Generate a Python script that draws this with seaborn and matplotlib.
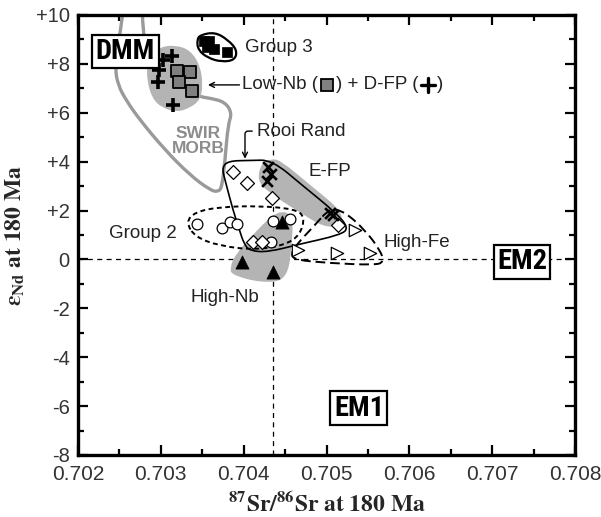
import matplotlib
matplotlib.use("Agg")
import matplotlib.pyplot as plt
import numpy as np
import seaborn as sns
from matplotlib.path import Path
from matplotlib.patches import PathPatch, Rectangle
from matplotlib.lines import Line2D
from matplotlib.ticker import MultipleLocator, FixedLocator, FixedFormatter
from matplotlib.offsetbox import TextArea, DrawingArea, HPacker, AnnotationBbox
from matplotlib import font_manager

# ---------------- sample data (87Sr/86Sr, eNd at 180 Ma) ----------------
dfp_sr = [0.703135, 0.703026, 0.702978, 0.702966, 0.703147]
dfp_nd = [8.32, 8.16, 7.75, 7.26, 6.32]

lownb_sr = [0.703195, 0.703352, 0.703219, 0.703376]
lownb_nd = [7.71, 7.67, 7.26, 6.89]

group3_sr = [0.703521, 0.703581, 0.703557, 0.703642, 0.703799]
group3_nd = [8.94, 8.94, 8.69, 8.61, 8.49]

efp_sr = [0.704294, 0.704330, 0.704282, 0.705042, 0.705080]
efp_nd = [3.78, 3.50, 3.21, 1.90, 1.80]

rooi_sr = [0.703871, 0.704040, 0.704342, 0.705139, 0.704113, 0.704221]
rooi_nd = [3.58, 3.13, 2.51, 1.41, 0.71, 0.71]

group2_sr = [0.703437, 0.703738, 0.703835, 0.703919, 0.704354, 0.704560, 0.704330]
group2_nd = [1.45, 1.29, 1.53, 1.45, 1.57, 1.65, 0.71]

highnb_sr = [0.704463, 0.703980, 0.704354]
highnb_nd = [1.53, -0.10, -0.51]

highfe_sr = [0.704656, 0.705127, 0.705525, 0.705344]
highfe_nd = [0.39, 0.26, 0.26, 1.20]

# ---------------- field outlines ----------------
swir_sr = [0.702773, 0.702785, 0.702869, 0.703171, 0.703473, 0.703594, 0.703775,
           0.703859, 0.703811, 0.703775, 0.703738, 0.703690, 0.703594, 0.703352,
           0.703050, 0.702748, 0.702579, 0.702483, 0.702447, 0.702495, 0.702555]
swir_nd = [10.41, 8.98, 8.16, 7.14, 6.65, 6.60, 6.44, 5.99, 5.50, 4.07, 2.96,
           2.76, 2.84, 3.45, 4.48, 5.70, 6.52, 7.14, 7.83, 8.98, 10.41]

lownb_field_sr = [0.702869, 0.702990, 0.703171, 0.703352, 0.703473, 0.703509, 0.703473,
                  0.703352, 0.703195, 0.703014, 0.702893, 0.702833, 0.702833]
lownb_field_nd = [8.36, 8.69, 8.77, 8.57, 7.95, 7.14, 6.52, 6.20, 6.03, 6.20, 6.60, 7.34, 7.95]

group3_field_sr = [0.703473, 0.703654, 0.703811, 0.703920, 0.703895, 0.703738, 0.703569,
                   0.703449, 0.703437]
group3_field_nd = [9.18, 9.30, 8.98, 8.57, 8.16, 8.08, 8.24, 8.57, 8.98]

efp_field_sr = [0.704221, 0.704330, 0.704439, 0.704820, 0.705199, 0.705163, 0.704982,
                0.704640, 0.704294, 0.704161]
efp_field_nd = [3.99, 4.10, 4.07, 3.00, 1.94, 1.41, 1.29, 2.00, 2.76, 3.25]

highnb_field_sr = [0.703835, 0.703895, 0.704137, 0.704414, 0.704596, 0.704583, 0.704523,
                   0.704221, 0.703859]
highnb_field_nd = [-0.35, 0.18, 1.12, 2.02, 1.82, 0.59, -0.84, -0.96, -0.64]

group2_field_sr = [0.703304, 0.703412, 0.703714, 0.704197, 0.704620, 0.704740, 0.704680,
                   0.704499, 0.704137, 0.703714, 0.703412]
group2_field_nd = [1.53, 1.94, 2.15, 2.19, 2.06, 1.74, 1.00, 0.59, 0.39, 0.55, 0.92]

rooi_field_sr = [0.703738, 0.703811, 0.704076, 0.704342, 0.704720, 0.705103, 0.705272,
                 0.705163, 0.704680, 0.704294, 0.704076, 0.704004, 0.703940, 0.703871,
                 0.703775]
rooi_field_nd = [3.74, 4.03, 4.05, 4.07, 3.00, 1.94, 1.29, 1.00, 0.63, 0.30, 0.35, 0.63,
                 1.30, 2.02, 3.25]

highfe_field_sr = [0.705042, 0.705223, 0.705465, 0.705646, 0.705694, 0.705585, 0.705042,
                   0.704620, 0.704571, 0.704632, 0.704861]
highfe_field_nd = [2.10, 1.94, 1.20, 0.39, -0.10, -0.23, -0.15, -0.02, 0.22, 0.59, 1.41]

# reference lines (Bulk Earth)
bse_sr = 0.70435
bse_nd = 0.0

x_ticks = [0.702, 0.703, 0.704, 0.705, 0.706, 0.707, 0.708]
x_labels = ["0.702", "0.703", "0.704", "0.705", "0.706", "0.707", "0.708"]
y_ticks = [-8, -6, -4, -2, 0, 2, 4, 6, 8, 10]
y_labels = ["-8", "-6", "-4", "-2", "0", "+2", "+4", "+6", "+8", "+10"]


def smooth_path(xs, ys, closed=True):
    """Quadratic-Bezier outline through edge midpoints, using the vertices as controls."""
    p = np.column_stack([xs, ys])
    n = len(p)
    verts, codes = [], []
    if closed:
        mids = (p + np.roll(p, -1, axis=0)) / 2
        verts.append(mids[-1]); codes.append(Path.MOVETO)
        for i in range(n):
            verts += [p[i], mids[i]]
            codes += [Path.CURVE3, Path.CURVE3]
        verts.append(mids[-1]); codes.append(Path.CLOSEPOLY)
    else:
        verts.append(p[0]); codes.append(Path.MOVETO)
        for i in range(1, n - 1):
            m = (p[i] + p[i + 1]) / 2
            verts += [p[i], m]
            codes += [Path.CURVE3, Path.CURVE3]
        verts.append(p[-1]); codes.append(Path.LINETO)
    return Path(verts, codes)


# narrow bold face for the end-member boxes, if one is installed
installed = {f.name for f in font_manager.fontManager.ttflist}
narrow_families = [f for f in ["Liberation Sans Narrow", "Arial Narrow", "Roboto Condensed",
                               "Open Sans Condensed", "DejaVu Sans"] if f in installed]
box_kw = dict(family=narrow_families + ["Liberation Sans"], fontstretch="condensed")

sns.set_theme(style="white")
plt.rcParams["font.family"] = ["Liberation Sans", "DejaVu Sans"]
plt.rcParams["mathtext.fontset"] = "stix"

fig = plt.figure(figsize=(6.01, 5.17), dpi=100)
ax = fig.add_axes([78 / 601, 1 - 455 / 517, 497 / 601, 440 / 517])
ax.set_xlim(0.702, 0.708)
ax.set_ylim(-8, 10)

txt = "#222222"
shade = "#b4b4b4"

# shaded fields
for fx, fy in [(lownb_field_sr, lownb_field_nd), (efp_field_sr, efp_field_nd),
               (highnb_field_sr, highnb_field_nd)]:
    ax.add_patch(PathPatch(smooth_path(fx, fy), facecolor=shade, edgecolor="none", zorder=1))

# SWIR MORB outline
ax.add_patch(PathPatch(smooth_path(swir_sr, swir_nd, closed=False), facecolor="none",
                       edgecolor="#9a9a9a", lw=2.4, zorder=0.5, capstyle="round"))

# Bulk Earth reference lines
ax.axvline(bse_sr, color="black", lw=0.9, ls=(0, (4, 3.5)), zorder=0.8)
ax.axhline(bse_nd, color="black", lw=0.9, ls=(0, (4, 3.5)), zorder=0.8)

# outlined fields
ax.add_patch(PathPatch(smooth_path(group3_field_sr, group3_field_nd), facecolor="none",
                       edgecolor="black", lw=1.6, zorder=2))
ax.add_patch(PathPatch(smooth_path(group2_field_sr, group2_field_nd), facecolor="none",
                       edgecolor="black", lw=1.4, ls=(0, (2.5, 1.8)), zorder=2))
ax.add_patch(PathPatch(smooth_path(rooi_field_sr, rooi_field_nd), facecolor="none",
                       edgecolor="black", lw=1.2, zorder=2))
ax.add_patch(PathPatch(smooth_path(highfe_field_sr, highfe_field_nd), facecolor="none",
                       edgecolor="black", lw=1.4, ls=(0, (5, 2.5)), zorder=2))

# samples
sns.scatterplot(x=group2_sr, y=group2_nd, marker="o", s=60, facecolor="white",
                edgecolor="black", linewidth=0.9, ax=ax, zorder=3)
sns.scatterplot(x=rooi_sr, y=rooi_nd, marker="D", s=50, facecolor="white",
                edgecolor="black", linewidth=0.9, ax=ax, zorder=3)
sns.scatterplot(x=highfe_sr, y=highfe_nd, marker=">", s=80, facecolor="white",
                edgecolor="black", linewidth=0.9, ax=ax, zorder=3)
sns.scatterplot(x=highnb_sr, y=highnb_nd, marker="^", s=90, color="black",
                edgecolor="black", linewidth=0.5, ax=ax, zorder=4)
sns.scatterplot(x=efp_sr, y=efp_nd, marker="x", s=60, color="black",
                linewidth=1.9, ax=ax, zorder=4)
sns.scatterplot(x=lownb_sr, y=lownb_nd, marker="s", s=75, color="#808080",
                edgecolor="black", linewidth=1.3, ax=ax, zorder=4)
sns.scatterplot(x=dfp_sr, y=dfp_nd, marker="+", s=110, color="black",
                linewidth=2.6, ax=ax, zorder=5)
sns.scatterplot(x=group3_sr, y=group3_nd, marker="s", s=50, color="black",
                edgecolor="black", linewidth=0.5, ax=ax, zorder=4)

# end-member boxes
for label, bx, by in [("DMM", 0.702573, 8.51), ("EM2", 0.707360, -0.10), ("EM1", 0.705392, -6.08)]:
    ax.text(bx, by, label, ha="center", va="center", fontsize=20.5, fontweight="bold",
            color="black", zorder=6, **box_kw,
            bbox=dict(boxstyle="square,pad=0.12", facecolor="white", edgecolor="black", lw=1.6))

# field labels
ax.text(0.704016, 8.65, "Group 3", ha="left", va="center", fontsize=13.5, color=txt, zorder=6)
ax.text(0.705042, 3.58, "E-FP", ha="center", va="center", fontsize=13.5, color=txt, zorder=6)
ax.text(0.706093, 0.71, "High-Fe", ha="center", va="center", fontsize=13.5, color=txt, zorder=6)
ax.text(0.702785, 1.08, "Group 2", ha="center", va="center", fontsize=13.5, color=txt, zorder=6)
ax.text(0.703775, -1.54, "High-Nb", ha="center", va="center", fontsize=13.5, color=txt, zorder=6)
ax.text(0.703449, 4.85, "SWIR\nMORB", ha="center", va="center", fontsize=12.5,
        fontweight="bold", color="#8c8c8c", linespacing=1.05, zorder=6)

ax.annotate("Rooi Rand", xy=(0.704016, 4.12), xytext=(0.704160, 5.25), ha="left",
            va="center", fontsize=13.5, color=txt, zorder=6,
            arrowprops=dict(arrowstyle="->", connectionstyle="angle,angleA=180,angleB=90,rad=3",
                            color="black", lw=1.0, shrinkA=1, shrinkB=0, mutation_scale=9))

# Low-Nb / D-FP caption with inline symbols
t1 = TextArea("Low-Nb (", textprops=dict(fontsize=13.5, color=txt))
sq = DrawingArea(11, 10, 0, 0)
sq.add_artist(Rectangle((1, 0.5), 9, 9, facecolor="#808080", edgecolor="black", lw=1.3))
t2 = TextArea(") + D-FP (", textprops=dict(fontsize=13.5, color=txt))
pl = DrawingArea(11, 10, 0, 0)
pl.add_artist(Line2D([5.5, 5.5], [0, 10], color="black", lw=2.4))
pl.add_artist(Line2D([0.5, 10.5], [5, 5], color="black", lw=2.4))
t3 = TextArea(")", textprops=dict(fontsize=13.5, color=txt))
pack = HPacker(children=[t1, sq, t2, pl, t3], align="center", pad=0, sep=1)
ax.add_artist(AnnotationBbox(pack, (0.703980, 7.14), xycoords="data", box_alignment=(0, 0.5),
                             frameon=False, pad=0, zorder=6))
ax.annotate("", xy=(0.703569, 7.14), xytext=(0.703950, 7.14),
            arrowprops=dict(arrowstyle="->", color="black", lw=1.0, mutation_scale=9,
                            shrinkA=0, shrinkB=0), zorder=6)

# axes styling
for s in ax.spines.values():
    s.set_linewidth(2.4)
    s.set_color("black")
    s.set_zorder(10)
ax.xaxis.set_major_locator(FixedLocator(x_ticks))
ax.xaxis.set_major_formatter(FixedFormatter(x_labels))
ax.yaxis.set_major_locator(FixedLocator(y_ticks))
ax.yaxis.set_major_formatter(FixedFormatter(y_labels))
ax.xaxis.set_minor_locator(MultipleLocator(0.0005))
ax.yaxis.set_minor_locator(MultipleLocator(1))
ax.tick_params(which="both", direction="in", top=True, right=True, bottom=True, left=True,
               color="black", width=1.6)
ax.tick_params(which="major", length=7.5)
ax.tick_params(which="minor", length=4.5)
ax.tick_params(axis="x", which="major", labelsize=15, labelcolor="#333333", pad=7)
ax.tick_params(axis="y", which="major", labelsize=14.5, labelcolor="#333333", pad=6)

ax.set_xlabel(r"$\mathbf{^{87}Sr/^{86}Sr\ at\ 180\ Ma}$", fontsize=17, labelpad=6)
ax.set_ylabel(r"$\mathbf{\varepsilon_{Nd}\ at\ 180\ Ma}$", fontsize=17, labelpad=6)

fig.savefig("out.png", dpi=100, facecolor="white")
